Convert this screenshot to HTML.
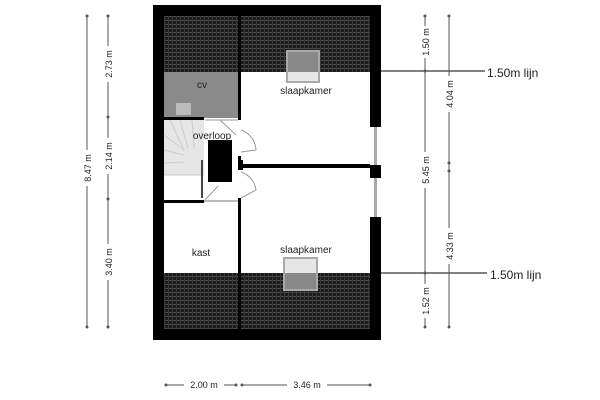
<!DOCTYPE html>
<html><head><style>
html,body{margin:0;padding:0;background:#fff;width:600px;height:400px;overflow:hidden}
svg{display:block}
text{font-family:"Liberation Sans",sans-serif;fill:#222}
</style></head><body>
<svg width="600" height="400" viewBox="0 0 600 400">
<defs>
<pattern id="h" width="4" height="4" patternUnits="userSpaceOnUse">
<rect width="4" height="4" fill="#1c1c1c"/>
<rect width="4" height="1" fill="#4a4a4a"/>
<rect width="1" height="4" fill="#3a3a3a"/>
</pattern>
</defs>
<!-- outer walls -->
<rect x="153" y="5" width="228" height="335" fill="#000"/>
<rect x="164" y="16" width="206" height="313" fill="#fff"/>
<!-- right windows -->
<rect x="370" y="127" width="11" height="38" fill="#fff"/>
<rect x="374" y="127" width="3" height="38" fill="#aaa"/>
<rect x="370" y="165" width="11" height="13" fill="#000"/>
<rect x="370" y="178" width="11" height="39" fill="#fff"/>
<rect x="374" y="178" width="3" height="39" fill="#aaa"/>
<!-- hatched roof -->
<rect x="164" y="16" width="206" height="56" fill="url(#h)"/>
<rect x="164" y="273" width="206" height="56" fill="url(#h)"/>
<!-- cv -->
<rect x="164" y="72" width="74" height="46" fill="#8a8a8a"/>
<rect x="176" y="103" width="15" height="12" fill="#bbb"/>
<!-- middle wall -->
<rect x="238" y="16" width="3" height="313" fill="#000"/>
<rect x="238" y="120" width="3" height="36" fill="#fff"/>
<rect x="238" y="170" width="3" height="28" fill="#fff"/>
<!-- walls -->
<rect x="164" y="117" width="40" height="3" fill="#000"/>
<rect x="164" y="200" width="40" height="3" fill="#000"/>
<rect x="204" y="200" width="34" height="2" fill="#bbb"/>
<rect x="241" y="164" width="129" height="4" fill="#000"/>
<rect x="238" y="160" width="5" height="10" fill="#000"/>
<!-- stairs -->
<rect x="164" y="120" width="40" height="55" fill="#e6e6e6"/>
<path d="M164 175 L204 175 M170 120 L184 150 M180 120 L188 148 M192 120 L194 148 M164 135 L184 150 M164 150 L184 155 M164 163 L184 162" stroke="#ccc" fill="none"/>
<line x1="202" y1="160" x2="202" y2="198" stroke="#444" stroke-width="2"/>
<!-- stair opening -->
<rect x="208" y="140" width="24" height="42" fill="#000"/>
<!-- doors -->
<path d="M241 130 A22 22 0 0 1 256 150 L241 152" stroke="#999" fill="none"/>
<path d="M241 172 A22 22 0 0 1 256 190 L241 198" stroke="#999" fill="none"/>
<path d="M205 120 L228 120 L238 120 M220 120 L236 135" stroke="#999" fill="none"/>
<path d="M205 200 L218 186" stroke="#999" fill="none"/>
<!-- skylights -->
<rect x="287" y="51" width="32" height="31" fill="#e6e6e6" stroke="#aaa" stroke-width="2"/>
<rect x="288" y="52" width="30" height="20" fill="#888"/>
<rect x="284" y="258" width="33" height="32" fill="#e6e6e6" stroke="#aaa" stroke-width="2"/>
<rect x="285" y="273" width="31" height="16" fill="#888"/>
<!-- labels -->
<text x="202" y="88" font-size="10" text-anchor="middle">cv</text>
<text x="306" y="94" font-size="10" text-anchor="middle">slaapkamer</text>
<text x="212" y="139" font-size="10" text-anchor="middle">overloop</text>
<text x="201" y="256" font-size="10" text-anchor="middle">kast</text>
<text x="306" y="253" font-size="10" text-anchor="middle">slaapkamer</text>
<!-- lijn lines -->
<line x1="381" y1="71" x2="485" y2="71" stroke="#000"/>
<line x1="381" y1="273" x2="487" y2="273" stroke="#000"/>
<text x="487" y="77" font-size="12">1.50m lijn</text>
<text x="490" y="279" font-size="12">1.50m lijn</text>
<!-- left dims -->
<g stroke="#555" stroke-width="1">
<line x1="87" y1="16" x2="87" y2="327"/>
<line x1="108" y1="16" x2="108" y2="327"/>
<line x1="425" y1="16" x2="425" y2="327"/>
<line x1="449" y1="16" x2="449" y2="327"/>
<line x1="166" y1="385" x2="236" y2="385"/>
<line x1="242" y1="385" x2="370" y2="385"/>
</g>
<g fill="#fff">
<rect x="82" y="150" width="10" height="36"/>
<rect x="103" y="46" width="10" height="36"/>
<rect x="103" y="138" width="10" height="36"/>
<rect x="103" y="244" width="10" height="36"/>
<rect x="420" y="26" width="10" height="32"/>
<rect x="420" y="152" width="10" height="36"/>
<rect x="420" y="284" width="10" height="34"/>
<rect x="444" y="76" width="10" height="36"/>
<rect x="444" y="228" width="10" height="36"/>
<rect x="184" y="379" width="40" height="12"/>
<rect x="287" y="379" width="40" height="12"/>
</g>
<g fill="#555">
<circle cx="87" cy="16" r="1.5"/><circle cx="87" cy="327" r="1.5"/>
<circle cx="108" cy="16" r="1.5"/><circle cx="108" cy="117" r="1.5"/><circle cx="108" cy="199" r="1.5"/><circle cx="108" cy="327" r="1.5"/>
<circle cx="425" cy="16" r="1.5"/><circle cx="425" cy="71" r="1.5"/><circle cx="425" cy="273" r="1.5"/><circle cx="425" cy="327" r="1.5"/>
<circle cx="449" cy="16" r="1.5"/><circle cx="449" cy="163" r="1.5"/><circle cx="449" cy="171" r="1.5"/><circle cx="449" cy="327" r="1.5"/>
<circle cx="166" cy="385" r="1.5"/><circle cx="236" cy="385" r="1.5"/><circle cx="242" cy="385" r="1.5"/><circle cx="370" cy="385" r="1.5"/>
</g>
<g font-size="9">
<text transform="translate(91,168) rotate(-90)" text-anchor="middle">8.47 m</text>
<text transform="translate(112,64) rotate(-90)" text-anchor="middle">2.73 m</text>
<text transform="translate(112,156) rotate(-90)" text-anchor="middle">2.14 m</text>
<text transform="translate(112,262) rotate(-90)" text-anchor="middle">3.40 m</text>
<text transform="translate(429,42) rotate(-90)" text-anchor="middle">1.50 m</text>
<text transform="translate(429,170) rotate(-90)" text-anchor="middle">5.45 m</text>
<text transform="translate(429,301) rotate(-90)" text-anchor="middle">1.52 m</text>
<text transform="translate(453,94) rotate(-90)" text-anchor="middle">4.04 m</text>
<text transform="translate(453,246) rotate(-90)" text-anchor="middle">4.33 m</text>
<text x="204" y="388" text-anchor="middle">2.00 m</text>
<text x="307" y="388" text-anchor="middle">3.46 m</text>
</g>
</svg>
</body></html>
